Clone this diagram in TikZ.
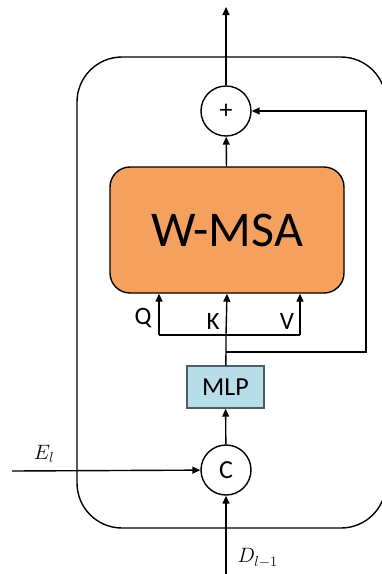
\documentclass[tikz,border=0pt]{standalone}
\usepackage{fontspec}
\setmainfont{Carlito}
\usetikzlibrary{arrows.meta}
\definecolor{msaorange}{RGB}{244,160,94}
\definecolor{mlpblue}{RGB}{183,222,232}
\definecolor{mlpborder}{RGB}{70,95,100}
\tikzset{
  conn/.style={line width=1.4pt, -{Triangle[width=7pt,length=8pt]}},
  wire/.style={line width=1.4pt},
  opcircle/.style={circle, draw, line width=1.4pt, minimum size=50pt, inner sep=0pt, font=\fontsize{26}{26}\selectfont},
}
\begin{document}
\begin{tikzpicture}[x=1pt, y=-1pt]
% page frame
\useasboundingbox (0,0) rectangle (381,574);
% outer block outline
\draw[line width=1.4pt, rounded corners=45pt] (77,57) rectangle (386,528);
% operators and blocks
\node[opcircle] (plus) at (226,111) {+};
\node[draw, line width=1.4pt, fill=msaorange, rounded corners=20pt,
      minimum width=234pt, minimum height=126pt,
      font=\fontsize{50}{50}\selectfont] (wmsa) at (227,230) {W-MSA};
\node[draw=mlpborder, line width=1.4pt, fill=mlpblue,
      minimum width=77pt, minimum height=42pt,
      font=\fontsize{26}{26}\selectfont] (mlp) at (225.5,387) {MLP};
\node[opcircle] (cat) at (226,470) {C};
% free ends and branch points
\coordinate (out) at (226,7);
\coordinate (ein) at (12,471);
\coordinate (din) at (226,574);
\coordinate (split) at (226,352);
\coordinate (qkv) at (226,335);
\coordinate (qfoot) at (159,335);
\coordinate (vfoot) at (300,335);
\coordinate (skip) at (366,352);
% connectors
\draw[conn] (plus) -- (out);
\draw[conn] (wmsa) -- (plus);
\draw[conn] (cat) -- (mlp);
\draw[conn] (ein) -- (cat);
\draw[conn] (din) -- (cat);
\draw[wire] (mlp) -- (split) -- (qkv);
\draw[conn] (qkv) -- (wmsa.south);
\draw[wire] (qfoot) -- (vfoot);
\draw[conn] (qfoot) -- (qfoot |- wmsa.south);
\draw[conn] (vfoot) -- (vfoot |- wmsa.south);
\draw[conn] (split) -- (skip) |- (plus);
% labels
\node[font=\fontsize{25}{25}\selectfont] (qlab) at (143,318) {Q};
\node[font=\fontsize{25}{25}\selectfont] (klab) at (213,321) {K};
\node[font=\fontsize{25}{25}\selectfont] (vlab) at (287,321) {V};
\node[font=\fontsize{22}{22}\selectfont] (elab) at (44,454) {$E_l$};
\node[font=\fontsize{22}{22}\selectfont, anchor=west] (dlab) at (234,558) {$D_{l-1}$};
\end{tikzpicture}
\end{document}
